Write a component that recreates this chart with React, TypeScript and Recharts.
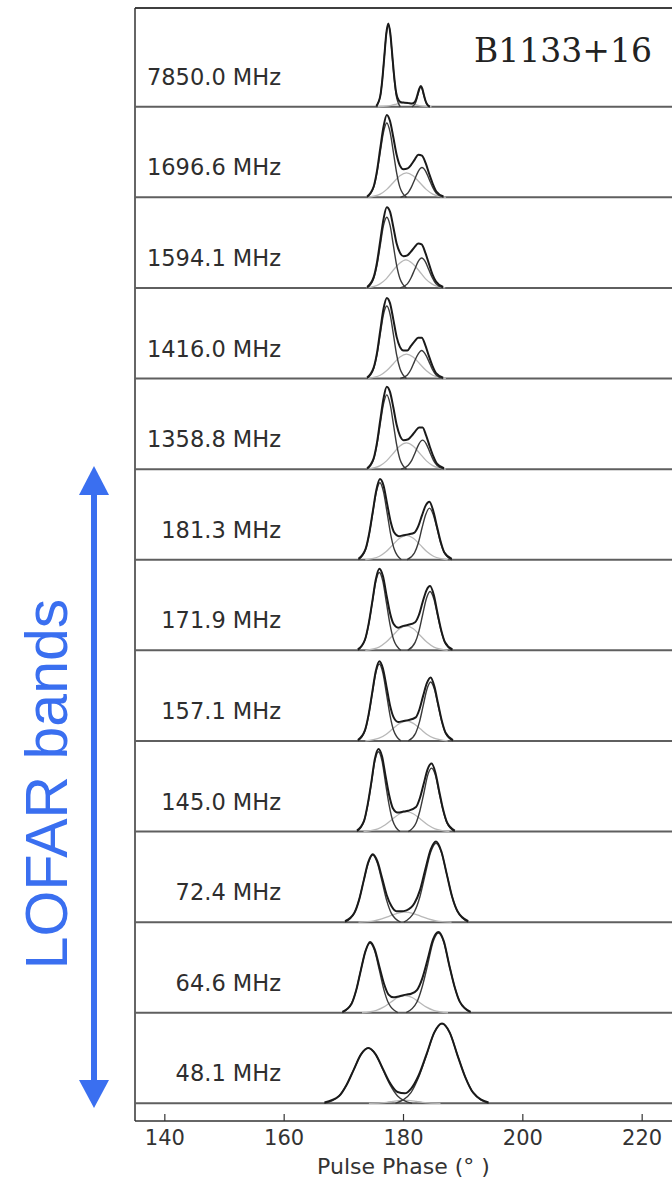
import { LineChart, Line, XAxis, YAxis, ReferenceLine } from "recharts";

type Pt = [number, number];

// Pulse phase (deg) vs normalised intensity.
// lead / trail = the two main gaussian components, bridge = the faint middle one.
const FREQ_LABELS = [
  "7850.0 MHz",
  "1696.6 MHz",
  "1594.1 MHz",
  "1416.0 MHz",
  "1358.8 MHz",
  "181.3 MHz",
  "171.9 MHz",
  "157.1 MHz",
  "145.0 MHz",
  "72.4 MHz",
  "64.6 MHz",
  "48.1 MHz",
];

const PHASE_TICKS = [140, 160, 180, 200, 220];

// 7850.0 MHz
const TOTAL_7850: Pt[] = [[175.44, 0.01], [176.11, 0.12], [176.45, 0.3], [176.78, 0.55], [177.12, 0.81], [177.45, 0.92], [177.79, 0.81], [178.12, 0.57], [178.46, 0.32], [178.79, 0.15], [179.2, 0.07], [179.6, 0.05], [180.2, 0.045], [180.8, 0.04], [181.4, 0.035], [181.9, 0.054], [182.15, 0.09], [182.4, 0.145], [182.65, 0.2], [182.9, 0.23], [183.15, 0.2], [183.4, 0.135], [183.65, 0.074], [183.9, 0.033], [184.4, 0]];
const LEAD_7850: Pt[] = [[175.44, 0], [176.11, 0.12], [176.45, 0.3], [176.78, 0.55], [177.12, 0.8], [177.45, 0.91], [177.79, 0.8], [178.12, 0.55], [178.46, 0.3], [178.79, 0.12], [179.46, 0]];
const TRAIL_7850: Pt[] = [[181.4, 0], [181.9, 0.03], [182.15, 0.07], [182.4, 0.13], [182.65, 0.19], [182.9, 0.22], [183.15, 0.19], [183.4, 0.13], [183.65, 0.07], [183.9, 0.03], [184.4, 0]];
const BRIDGE_7850: Pt[] = [[175.7, 0], [177.2, 0.006], [177.95, 0.015], [178.7, 0.027], [179.45, 0.04], [180.2, 0.045], [180.95, 0.04], [181.7, 0.027], [182.45, 0.015], [183.2, 0.006], [184.7, 0]];

// 1696.6 MHz
const TOTAL_1697: Pt[] = [[173.9, 0.01], [175.0, 0.12], [175.55, 0.29], [176.1, 0.54], [176.65, 0.78], [177.2, 0.91], [177.75, 0.84], [178.3, 0.66], [178.85, 0.47], [179.4, 0.35], [180.0, 0.31], [180.7, 0.32], [181.3, 0.36], [181.9, 0.42], [182.5, 0.47], [183.1, 0.46], [183.7, 0.38], [184.3, 0.26], [184.9, 0.15], [185.5, 0.065], [186.7, 0.01]];
const LEAD_1697: Pt[] = [[173.9, 0], [175.0, 0.11], [175.55, 0.27], [176.1, 0.5], [176.65, 0.72], [177.2, 0.82], [177.75, 0.72], [178.3, 0.5], [178.85, 0.27], [179.4, 0.11], [180.5, 0]];
const TRAIL_1697: Pt[] = [[179.5, 0], [180.7, 0.045], [181.3, 0.11], [181.9, 0.2], [182.5, 0.29], [183.1, 0.33], [183.7, 0.29], [184.3, 0.2], [184.9, 0.11], [185.5, 0.045], [186.7, 0]];
const BRIDGE_1697: Pt[] = [[173.9, 0], [176.1, 0.036], [177.2, 0.088], [178.3, 0.164], [179.4, 0.238], [180.5, 0.27], [181.6, 0.238], [182.7, 0.164], [183.8, 0.088], [184.9, 0.036], [187.1, 0]];

// 1594.1 MHz
const TOTAL_1594: Pt[] = [[173.9, 0.01], [175.0, 0.12], [175.55, 0.28], [176.1, 0.52], [176.65, 0.76], [177.2, 0.89], [177.75, 0.84], [178.3, 0.67], [178.85, 0.49], [179.4, 0.39], [180.0, 0.35], [180.65, 0.36], [181.25, 0.4], [181.85, 0.45], [182.45, 0.49], [183.05, 0.48], [183.65, 0.39], [184.25, 0.27], [184.85, 0.15], [185.45, 0.07], [186.65, 0.01]];
const LEAD_1594: Pt[] = [[173.9, 0], [175.0, 0.105], [175.55, 0.25], [176.1, 0.47], [176.65, 0.69], [177.2, 0.78], [177.75, 0.69], [178.3, 0.47], [178.85, 0.25], [179.4, 0.105], [180.5, 0]];
const TRAIL_1594: Pt[] = [[179.45, 0], [180.65, 0.045], [181.25, 0.11], [181.85, 0.2], [182.45, 0.29], [183.05, 0.33], [183.65, 0.29], [184.25, 0.2], [184.85, 0.11], [185.45, 0.045], [186.65, 0]];
const BRIDGE_1594: Pt[] = [[173.8, 0], [176.0, 0.042], [177.1, 0.1], [178.2, 0.19], [179.3, 0.27], [180.4, 0.31], [181.5, 0.27], [182.6, 0.19], [183.7, 0.1], [184.8, 0.042], [187.0, 0]];

// 1416.0 MHz
const TOTAL_1416: Pt[] = [[173.9, 0.01], [175.0, 0.12], [175.55, 0.28], [176.1, 0.53], [176.65, 0.77], [177.2, 0.89], [177.75, 0.83], [178.3, 0.65], [178.85, 0.46], [179.4, 0.35], [180.0, 0.31], [180.65, 0.31], [181.25, 0.36], [181.85, 0.41], [182.45, 0.45], [183.05, 0.45], [183.65, 0.37], [184.25, 0.25], [184.85, 0.14], [185.45, 0.06], [186.65, 0.01]];
const LEAD_1416: Pt[] = [[173.9, 0], [175.0, 0.11], [175.55, 0.26], [176.1, 0.49], [176.65, 0.71], [177.2, 0.8], [177.75, 0.71], [178.3, 0.49], [178.85, 0.26], [179.4, 0.11], [180.5, 0]];
const TRAIL_1416: Pt[] = [[179.45, 0], [180.65, 0.04], [181.25, 0.1], [181.85, 0.19], [182.45, 0.27], [183.05, 0.31], [183.65, 0.27], [184.25, 0.19], [184.85, 0.1], [185.45, 0.04], [186.65, 0]];
const BRIDGE_1416: Pt[] = [[173.9, 0], [176.1, 0.036], [177.2, 0.088], [178.3, 0.164], [179.4, 0.238], [180.5, 0.27], [181.6, 0.238], [182.7, 0.164], [183.8, 0.088], [184.9, 0.036], [187.1, 0]];

// 1358.8 MHz
const TOTAL_1359: Pt[] = [[173.9, 0.01], [175.0, 0.12], [175.55, 0.29], [176.1, 0.54], [176.65, 0.78], [177.2, 0.91], [177.75, 0.85], [178.3, 0.68], [178.85, 0.49], [179.4, 0.37], [180.0, 0.32], [180.8, 0.33], [181.4, 0.37], [182.0, 0.42], [182.6, 0.46], [183.2, 0.46], [183.8, 0.37], [184.4, 0.25], [185.0, 0.14], [185.6, 0.06], [186.8, 0.01]];
const LEAD_1359: Pt[] = [[173.9, 0], [175.0, 0.11], [175.55, 0.27], [176.1, 0.5], [176.65, 0.72], [177.2, 0.82], [177.75, 0.72], [178.3, 0.5], [178.85, 0.27], [179.4, 0.11], [180.5, 0]];
const TRAIL_1359: Pt[] = [[179.6, 0], [180.8, 0.043], [181.4, 0.1], [182.0, 0.19], [182.6, 0.28], [183.2, 0.32], [183.8, 0.28], [184.4, 0.19], [185.0, 0.1], [185.6, 0.043], [186.8, 0]];
const BRIDGE_1359: Pt[] = [[173.9, 0], [176.1, 0.039], [177.2, 0.094], [178.3, 0.176], [179.4, 0.256], [180.5, 0.29], [181.6, 0.256], [182.7, 0.176], [183.8, 0.094], [184.9, 0.039], [187.1, 0]];

// 181.3 MHz
const TOTAL_181: Pt[] = [[172.45, 0.01], [173.65, 0.12], [174.25, 0.29], [174.85, 0.53], [175.45, 0.77], [176.05, 0.89], [176.65, 0.82], [177.25, 0.62], [177.85, 0.42], [178.45, 0.3], [179.2, 0.26], [180.0, 0.27], [180.8, 0.28], [181.85, 0.3], [182.48, 0.37], [183.1, 0.49], [183.73, 0.6], [184.35, 0.64], [184.98, 0.54], [185.6, 0.37], [186.23, 0.2], [186.85, 0.08], [188.1, 0.01]];
const LEAD_181: Pt[] = [[172.45, 0], [173.65, 0.115], [174.25, 0.28], [174.85, 0.52], [175.45, 0.75], [176.05, 0.85], [176.65, 0.75], [177.25, 0.52], [177.85, 0.28], [178.45, 0.115], [179.65, 0]];
const TRAIL_181: Pt[] = [[180.6, 0], [181.85, 0.077], [182.48, 0.185], [183.1, 0.35], [183.73, 0.5], [184.35, 0.57], [184.98, 0.5], [185.6, 0.35], [186.23, 0.185], [186.85, 0.077], [188.1, 0]];
const BRIDGE_181: Pt[] = [[173.6, 0], [175.9, 0.036], [177.05, 0.088], [178.2, 0.164], [179.35, 0.238], [180.5, 0.27], [181.65, 0.238], [182.8, 0.164], [183.95, 0.088], [185.1, 0.036], [187.4, 0]];

// 171.9 MHz
const TOTAL_172: Pt[] = [[172.35, 0.01], [173.55, 0.12], [174.15, 0.29], [174.75, 0.53], [175.35, 0.78], [175.95, 0.9], [176.55, 0.82], [177.15, 0.61], [177.75, 0.41], [178.35, 0.29], [179.1, 0.25], [180.0, 0.27], [180.7, 0.28], [181.95, 0.31], [182.58, 0.39], [183.2, 0.53], [183.83, 0.66], [184.45, 0.71], [185.08, 0.61], [185.7, 0.41], [186.33, 0.22], [186.95, 0.09], [188.2, 0.01]];
const LEAD_172: Pt[] = [[172.35, 0], [173.55, 0.116], [174.15, 0.28], [174.75, 0.52], [175.35, 0.76], [175.95, 0.86], [176.55, 0.76], [177.15, 0.52], [177.75, 0.28], [178.35, 0.116], [179.55, 0]];
const TRAIL_172: Pt[] = [[180.7, 0], [181.95, 0.088], [182.58, 0.21], [183.2, 0.39], [183.83, 0.57], [184.45, 0.65], [185.08, 0.57], [185.7, 0.39], [186.33, 0.21], [186.95, 0.088], [188.2, 0]];
const BRIDGE_172: Pt[] = [[173.6, 0], [175.9, 0.036], [177.05, 0.088], [178.2, 0.164], [179.35, 0.238], [180.5, 0.27], [181.65, 0.238], [182.8, 0.164], [183.95, 0.088], [185.1, 0.036], [187.4, 0]];

// 157.1 MHz
const TOTAL_157: Pt[] = [[172.35, 0.01], [173.55, 0.12], [174.15, 0.29], [174.75, 0.53], [175.35, 0.77], [175.95, 0.88], [176.55, 0.8], [177.15, 0.6], [177.75, 0.39], [178.35, 0.26], [179.1, 0.21], [180.0, 0.22], [180.8, 0.23], [182.05, 0.26], [182.68, 0.35], [183.3, 0.5], [183.93, 0.64], [184.55, 0.7], [185.18, 0.6], [185.8, 0.41], [186.43, 0.22], [187.05, 0.09], [188.3, 0.01]];
const LEAD_157: Pt[] = [[172.35, 0], [173.55, 0.115], [174.15, 0.28], [174.75, 0.52], [175.35, 0.75], [175.95, 0.85], [176.55, 0.75], [177.15, 0.52], [177.75, 0.28], [178.35, 0.115], [179.55, 0]];
const TRAIL_157: Pt[] = [[180.8, 0], [182.05, 0.088], [182.68, 0.21], [183.3, 0.39], [183.93, 0.57], [184.55, 0.65], [185.18, 0.57], [185.8, 0.39], [186.43, 0.21], [187.05, 0.088], [188.3, 0]];
const BRIDGE_157: Pt[] = [[173.6, 0], [175.9, 0.03], [177.05, 0.072], [178.2, 0.134], [179.35, 0.194], [180.5, 0.22], [181.65, 0.194], [182.8, 0.134], [183.95, 0.072], [185.1, 0.03], [187.4, 0]];

// 145.0 MHz
const TOTAL_145: Pt[] = [[172.2, 0.01], [173.4, 0.12], [174.0, 0.3], [174.6, 0.54], [175.2, 0.8], [175.8, 0.91], [176.4, 0.83], [177.0, 0.61], [177.6, 0.4], [178.2, 0.26], [179.0, 0.21], [180.0, 0.22], [180.8, 0.23], [182.1, 0.27], [182.75, 0.37], [183.4, 0.53], [184.05, 0.69], [184.7, 0.75], [185.35, 0.65], [186.0, 0.44], [186.65, 0.24], [187.3, 0.1], [188.6, 0.01]];
const LEAD_145: Pt[] = [[172.2, 0], [173.4, 0.12], [174.0, 0.29], [174.6, 0.53], [175.2, 0.78], [175.8, 0.88], [176.4, 0.78], [177.0, 0.53], [177.6, 0.29], [178.2, 0.12], [179.4, 0]];
const TRAIL_145: Pt[] = [[180.8, 0], [182.1, 0.095], [182.75, 0.23], [183.4, 0.42], [184.05, 0.62], [184.7, 0.7], [185.35, 0.62], [186.0, 0.42], [186.65, 0.23], [187.3, 0.095], [188.6, 0]];
const BRIDGE_145: Pt[] = [[173.3, 0], [175.7, 0.03], [176.9, 0.072], [178.1, 0.134], [179.3, 0.194], [180.5, 0.22], [181.7, 0.194], [182.9, 0.134], [184.1, 0.072], [185.3, 0.03], [187.7, 0]];

// 72.4 MHz
const TOTAL_72: Pt[] = [[170.2, 0.01], [171.75, 0.1], [172.53, 0.24], [173.3, 0.45], [174.08, 0.66], [174.85, 0.75], [175.63, 0.67], [176.4, 0.49], [177.18, 0.3], [177.95, 0.18], [178.8, 0.12], [179.6, 0.12], [180.5, 0.13], [181.85, 0.21], [182.75, 0.35], [183.65, 0.58], [184.55, 0.8], [185.45, 0.89], [186.35, 0.78], [187.25, 0.53], [188.15, 0.28], [189.05, 0.12], [190.85, 0.01]];
const LEAD_72: Pt[] = [[170.2, 0], [171.75, 0.1], [172.53, 0.24], [173.3, 0.45], [174.08, 0.65], [174.85, 0.74], [175.63, 0.65], [176.4, 0.45], [177.18, 0.24], [177.95, 0.1], [179.5, 0]];
const TRAIL_72: Pt[] = [[180.05, 0], [181.85, 0.117], [182.75, 0.28], [183.65, 0.53], [184.55, 0.77], [185.45, 0.87], [186.35, 0.77], [187.25, 0.53], [188.15, 0.28], [189.05, 0.117], [190.85, 0]];
const BRIDGE_72: Pt[] = [[172.45, 0], [175.05, 0.015], [176.35, 0.036], [177.65, 0.067], [178.95, 0.097], [180.25, 0.11], [181.55, 0.097], [182.85, 0.067], [184.15, 0.036], [185.45, 0.015], [188.05, 0]];

// 64.6 MHz
const TOTAL_65: Pt[] = [[169.75, 0.01], [171.3, 0.1], [172.08, 0.25], [172.85, 0.47], [173.63, 0.68], [174.4, 0.78], [175.18, 0.7], [175.95, 0.51], [176.73, 0.32], [177.5, 0.2], [178.3, 0.17], [179.2, 0.18], [180.45, 0.2], [181.3, 0.21], [182.25, 0.25], [183.15, 0.38], [184.05, 0.59], [184.95, 0.81], [185.85, 0.89], [186.75, 0.79], [187.65, 0.53], [188.55, 0.29], [189.45, 0.12], [191.25, 0.01]];
const LEAD_65: Pt[] = [[169.75, 0], [171.3, 0.104], [172.08, 0.25], [172.85, 0.47], [173.63, 0.68], [174.4, 0.77], [175.18, 0.68], [175.95, 0.47], [176.73, 0.25], [177.5, 0.104], [179.05, 0]];
const TRAIL_65: Pt[] = [[180.45, 0], [182.25, 0.119], [183.15, 0.29], [184.05, 0.53], [184.95, 0.78], [185.85, 0.88], [186.75, 0.78], [187.65, 0.53], [188.55, 0.29], [189.45, 0.119], [191.25, 0]];
const BRIDGE_65: Pt[] = [[173.05, 0], [175.45, 0.026], [176.65, 0.062], [177.85, 0.115], [179.05, 0.168], [180.25, 0.19], [181.45, 0.168], [182.65, 0.115], [183.85, 0.062], [185.05, 0.026], [187.45, 0]];

// 48.1 MHz
const TOTAL_48: Pt[] = [[166.75, 0.01], [169.2, 0.08], [170.43, 0.2], [171.65, 0.37], [172.88, 0.54], [174.1, 0.61], [175.33, 0.54], [176.55, 0.38], [177.78, 0.22], [179.0, 0.125], [180.2, 0.11], [181.25, 0.16], [182.55, 0.31], [183.85, 0.54], [185.15, 0.78], [186.45, 0.88], [187.75, 0.78], [189.05, 0.53], [190.35, 0.29], [191.65, 0.12], [194.25, 0.01]];
const LEAD_48: Pt[] = [[166.75, 0], [169.2, 0.082], [170.43, 0.2], [171.65, 0.37], [172.88, 0.54], [174.1, 0.61], [175.33, 0.54], [176.55, 0.37], [177.78, 0.2], [179.0, 0.082], [181.45, 0]];
const TRAIL_48: Pt[] = [[178.65, 0], [181.25, 0.119], [182.55, 0.29], [183.85, 0.53], [185.15, 0.78], [186.45, 0.88], [187.75, 0.78], [189.05, 0.53], [190.35, 0.29], [191.65, 0.119], [194.25, 0]];
const BRIDGE_48: Pt[] = [[174.2, 0], [176.2, 0.005], [177.2, 0.011], [178.2, 0.021], [179.2, 0.031], [180.2, 0.035], [181.2, 0.031], [182.2, 0.021], [183.2, 0.011], [184.2, 0.005], [186.2, 0]];

const TOTALS = [TOTAL_7850, TOTAL_1697, TOTAL_1594, TOTAL_1416, TOTAL_1359, TOTAL_181, TOTAL_172, TOTAL_157, TOTAL_145, TOTAL_72, TOTAL_65, TOTAL_48];
const LEADS = [LEAD_7850, LEAD_1697, LEAD_1594, LEAD_1416, LEAD_1359, LEAD_181, LEAD_172, LEAD_157, LEAD_145, LEAD_72, LEAD_65, LEAD_48];
const TRAILS = [TRAIL_7850, TRAIL_1697, TRAIL_1594, TRAIL_1416, TRAIL_1359, TRAIL_181, TRAIL_172, TRAIL_157, TRAIL_145, TRAIL_72, TRAIL_65, TRAIL_48];
const BRIDGES = [BRIDGE_7850, BRIDGE_1697, BRIDGE_1594, BRIDGE_1416, BRIDGE_1359, BRIDGE_181, BRIDGE_172, BRIDGE_157, BRIDGE_145, BRIDGE_72, BRIDGE_65, BRIDGE_48];

const N = FREQ_LABELS.length;

// stack the profiles: top band sits at offset N-1, bottom one at 0
const stacked = (pts: Pt[], offset: number) => pts.map(([x, y]) => ({ x, y: y + offset }));

const FONT = "DejaVu Sans, sans-serif";
const BLUE = "#3a6ff0";
const AXIS = "#333";

// matplotlib-style ticks: marks point into the plot
const BottomTick = (p: any) => (
  <g>
    <line x1={p.x} x2={p.x} y1={p.y} y2={p.y - 7} stroke={AXIS} strokeWidth={1.2} />
    <text x={p.x} y={p.y + 24} textAnchor="middle" fontFamily={FONT} fontSize={21} fill={AXIS}>
      {p.payload.value}
    </text>
  </g>
);

const TopTick = (p: any) => (
  <line x1={p.x} x2={p.x} y1={p.y} y2={p.y + 6} stroke={AXIS} strokeWidth={1.2} />
);

export default function App() {
  return (
    <div style={{ position: "relative", width: 672, height: 1179, background: "#fff", overflow: "hidden" }}>
      <style>{"body{margin:0;overflow:hidden}"}</style>
      <LineChart width={672} height={1179} margin={{ top: 7, right: 0, bottom: 0, left: 135 }}>
        <XAxis
          type="number"
          dataKey="x"
          domain={[135, 225]}
          ticks={PHASE_TICKS}
          allowDataOverflow
          height={58}
          tickSize={0}
          tickMargin={0}
          tickLine={false}
          axisLine={{ stroke: AXIS, strokeWidth: 1.5 }}
          tick={BottomTick}
          label={{ value: "Pulse Phase (° )", position: "insideBottom", offset: 5, fontFamily: FONT, fontSize: 22, fill: AXIS }}
        />
        <XAxis
          xAxisId="top"
          orientation="top"
          type="number"
          domain={[135, 225]}
          ticks={PHASE_TICKS}
          allowDataOverflow
          height={1}
          tickSize={0}
          tickMargin={0}
          tickLine={false}
          tick={TopTick}
          axisLine={{ stroke: AXIS, strokeWidth: 1.5 }}
        />
        <YAxis type="number" domain={[-0.195, 12.09]} allowDataOverflow hide />

        <ReferenceLine x={135} stroke={AXIS} strokeWidth={1.5} />
        <ReferenceLine y={12.09} stroke={AXIS} strokeWidth={1.5} />
        {FREQ_LABELS.map((label, i) => (
          <ReferenceLine
            key={`base-${label}`}
            y={N - 1 - i}
            stroke="#5f5f5f"
            strokeWidth={2}
            label={(p: any) => {
              const vb = p.viewBox ?? p;
              return (
                <text x={vb.x + 146} y={vb.y - 22} textAnchor="end" fontFamily={FONT} fontSize={22.5} fill="#2e2e2e">
                  {label}
                </text>
              );
            }}
          />
        ))}

        {BRIDGES.map((pts, i) => (
          <Line
            key={`bridge-${i}`}
            data={stacked(pts, N - 1 - i)}
            dataKey="y"
            type="monotone"
            stroke="#b8b8b8"
            strokeWidth={1.3}
            dot={false}
            activeDot={false}
            isAnimationActive={false}
          />
        ))}
        {LEADS.map((pts, i) => (
          <Line
            key={`lead-${i}`}
            data={stacked(pts, N - 1 - i)}
            dataKey="y"
            type="monotone"
            stroke="#3a3a3a"
            strokeWidth={1.4}
            dot={false}
            activeDot={false}
            isAnimationActive={false}
          />
        ))}
        {TRAILS.map((pts, i) => (
          <Line
            key={`trail-${i}`}
            data={stacked(pts, N - 1 - i)}
            dataKey="y"
            type="monotone"
            stroke="#3a3a3a"
            strokeWidth={1.4}
            dot={false}
            activeDot={false}
            isAnimationActive={false}
          />
        ))}
        {TOTALS.map((pts, i) => (
          <Line
            key={`total-${i}`}
            data={stacked(pts, N - 1 - i)}
            dataKey="y"
            type="monotone"
            stroke="#1a1a1a"
            strokeWidth={2}
            dot={false}
            activeDot={false}
            isAnimationActive={false}
          />
        ))}
      </LineChart>

      <svg width={672} height={1179} style={{ position: "absolute", left: 0, top: 0, pointerEvents: "none" }}>
        <text x={474} y={62} fontFamily="DejaVu Serif, serif" fontSize={33} fill="#222">
          B1133+16
        </text>
        <line x1={94} x2={94} y1={490} y2={1084} stroke={BLUE} strokeWidth={6} />
        <polygon points="94,466 79,495 109,495" fill={BLUE} />
        <polygon points="94,1108 79,1080 109,1080" fill={BLUE} />
        <text
          x={67}
          y={784}
          transform="rotate(-90 67 784)"
          textAnchor="middle"
          fontFamily="Liberation Sans, Arial, sans-serif"
          fontSize={59}
          fill={BLUE}
        >
          LOFAR bands
        </text>
      </svg>
    </div>
  );
}
